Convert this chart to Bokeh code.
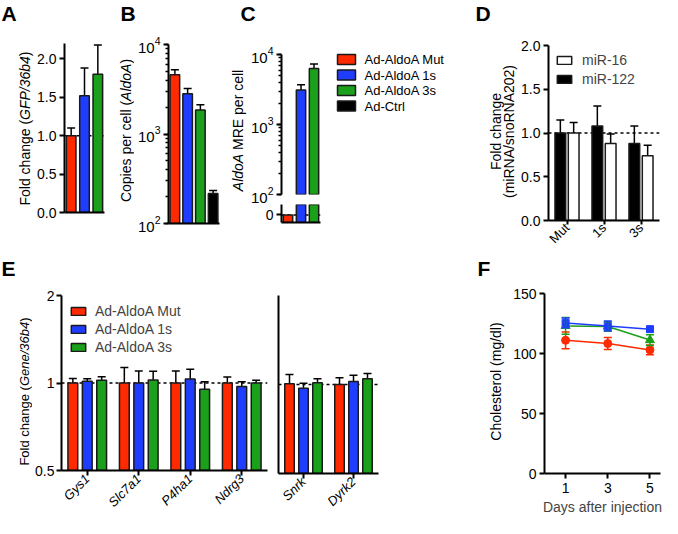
from math import pi
import numpy as np
from bokeh.plotting import figure
from bokeh.layouts import row, column
from bokeh.models import (ColumnDataSource, FactorRange, Range1d, Span, Whisker, TeeHead,
                          Legend, LegendItem, FixedTicker, NumeralTickFormatter)
from bokeh.core.properties import value
from bokeh.transform import dodge
from bokeh.embed import file_html
from bokeh.resources import INLINE

FONT = "Liberation Sans"
RED, BLUE, GREEN, BLACK, WHITE = "#ff2a00", "#1f3dff", "#1aa01a", "#000000", "#ffffff"
EDGE = "#1a1a1a"

# ---------------- data ----------------
abc_groups = ["Ad-AldoA Mut", "Ad-AldoA 1s", "Ad-AldoA 3s", "Ad-Ctrl"]
abc_colors = [RED, BLUE, GREEN, BLACK]
a_mean = [1.00, 1.52, 1.80]
a_sem = [0.10, 0.36, 0.38]
b_mean = [4580, 2810, 1860, 216]
b_sem = [630, 410, 260, 18]
c_mean = [0, 3100, 6300]
c_sem = [0, 600, 1000]

d_groups = ["Mut", "1s", "3s"]
d_mir122 = [1.00, 1.08, 0.88]
d_mir122_sem = [0.15, 0.23, 0.20]
d_mir16 = [1.00, 0.88, 0.74]
d_mir16_sem = [0.12, 0.11, 0.12]

e_series = ["Ad-AldoA Mut", "Ad-AldoA 1s", "Ad-AldoA 3s"]
e_genes_left = ["Gys1", "Slc7a1", "P4ha1", "Ndrg3"]
e_genes_right = ["Snrk", "Dyrk2"]
e_mut = [1.000, 1.000, 1.000, 1.000, 1.005, 1.000]
e_mut_sem = [0.037, 0.130, 0.100, 0.048, 0.075, 0.053]
e_1s = [1.013, 1.000, 1.032, 0.972, 0.972, 1.023]
e_1s_sem = [0.021, 0.100, 0.083, 0.038, 0.038, 0.052]
e_3s = [1.023, 1.024, 0.952, 1.000, 1.013, 1.045]
e_3s_sem = [0.027, 0.074, 0.058, 0.023, 0.032, 0.045]

f_days = [1, 3, 5]
f_mut = [111.0, 108.3, 103.0]
f_mut_sem = [7.0, 5.0, 4.0]
f_1s = [125.5, 123.0, 120.3]
f_1s_sem = [4.0, 4.0, 1.5]
f_3s = [123.0, 122.5, 111.2]
f_3s_sem = [7.0, 4.0, 4.5]

# Arial / Liberation Sans advance widths (per 1000 em), used to lay out mixed-style labels
AW = {' ': 278, '(': 333, ')': 333, '/': 278, 'A': 667, 'C': 722, 'E': 667, 'F': 611, 'G': 778,
      'M': 833, 'P': 667, 'R': 722, 'N': 722, 'a': 556, 'b': 556, 'c': 500, 'd': 556, 'e': 556,
      'g': 556, 'h': 556, 'i': 222, 'l': 222, 'm': 833, 'n': 556, 'o': 556, 'p': 556, 'r': 333,
      's': 500, 't': 278}


def tw(s, size):
    return sum(AW.get(c, 556) for c in s) / 1000.0 * size


def make_fig(w, h, lb, rb, tb, bb, **kw):
    p = figure(width=w, height=h, min_border_left=lb, min_border_right=rb,
               min_border_top=tb, min_border_bottom=bb, title=None,
               output_backend="svg", toolbar_location=None, **kw)
    p.outline_line_color = None
    p.xgrid.grid_line_color = None
    p.ygrid.grid_line_color = None
    return p


def text_fig(x0, x1, y0, y1):
    """Blank figure whose data coordinates equal page pixels (y negated)."""
    p = figure(width=x1 - x0, height=y1 - y0, x_range=Range1d(x0, x1),
               y_range=Range1d(-y1, -y0), min_border=0, title=None,
               x_axis_location=None, y_axis_location=None,
               output_backend="svg", toolbar_location=None)
    p.outline_line_color = None
    p.xgrid.grid_line_color = None
    p.ygrid.grid_line_color = None
    return p


def iso(p):
    # wrap each plot on its own so that rows do not align the plot frames
    return column(p, spacing=0)


def put_text(p, xs, ys, texts, size, style="normal", align="left", baseline="alphabetic",
             angle=0.0):
    p.text(x=list(xs), y=[-y for y in ys], text=list(texts), angle=angle,
           text_font=value(FONT), text_font_size=value(f"{size}px"),
           text_font_style=value(style), text_align=value(align),
           text_baseline=value(baseline), text_color=value("black"))


def vlabel(p, cx, cy, pieces, size):
    total = sum(tw(t, size) for t, _ in pieces)
    y = cy + total / 2.0
    for t, st in pieces:
        s = t.lstrip()
        lead = tw(t[:len(t) - len(s)], size)
        put_text(p, [cx], [y - lead], [s], size, style=st, align="left", baseline="middle",
                 angle=pi / 2)
        y -= tw(t, size)


def style_axis(ax, size=14, minor=False):
    ax.axis_line_width = 2
    ax.axis_line_color = "black"
    ax.major_tick_line_width = 2
    ax.major_tick_line_color = "black"
    ax.major_tick_out = 5
    ax.major_tick_in = 0
    if minor:
        ax.minor_tick_line_color = "black"
        ax.minor_tick_line_width = 1.5
        ax.minor_tick_out = 3
        ax.minor_tick_in = 0
    else:
        ax.minor_tick_line_color = None
    ax.major_label_text_font = FONT
    ax.major_label_text_font_size = f"{size}px"
    ax.major_label_text_color = "black"
    ax.major_label_standoff = 3


def bare_xaxis(p):
    # baseline only: no ticks, no labels
    p.xaxis.ticker = FixedTicker(ticks=[], minor_ticks=[])
    ax = p.xaxis[0]
    ax.axis_line_width = 2
    ax.axis_line_color = "black"
    ax.major_label_standoff = 0


def slots(n):
    return [i + 0.5 for i in range(n)]


def dashed(p, loc):
    p.add_layout(Span(location=loc, dimension="width", line_color="black", line_width=1.5,
                      line_dash="3 3", level="underlay"))


def tee(color="black"):
    return TeeHead(size=8, line_width=1.5, line_color=color)


TOP = 36      # page y where the upper panels start (below the letter strip)
CSPLIT = 212  # page y where the lower part of the broken axis in C starts
BOT0 = 262    # page y where the lower letter strip starts
BOT = 290     # page y where the lower panels start

# ---------------- letter strips ----------------
stripT = text_fig(8, 670, 8, TOP)
put_text(stripT, [9, 128, 248, 483], [21, 21, 21, 21], ["A", "B", "C", "D"], 21, style="bold",
         baseline="middle")
stripB = text_fig(8, 670, BOT0, BOT)
put_text(stripB, [9, 485], [276, 276], ["E", "F"], 21, style="bold", baseline="middle")

# ---------------- Panel A ----------------
tA = text_fig(8, 42, TOP, 262)
vlabel(tA, 32, 136, [("Fold change (", "normal"), ("GFP/36b4", "italic"), (")", "normal")], 14)
fA = make_fig(74, 262 - TOP, 29, 4, 51 - TOP, 42, x_range=Range1d(0, len(a_mean)),
              y_range=Range1d(0, 2.2))
srcA = ColumnDataSource(dict(g=abc_groups[:3], x=slots(3), m=a_mean,
                             hi=[m + s for m, s in zip(a_mean, a_sem)], c=abc_colors[:3]))
dashed(fA, 1.0)
fA.vbar(x="x", top="m", bottom=0, width=0.72, fill_color="c", line_color=EDGE, line_width=1.5,
        source=srcA)
fA.add_layout(Whisker(source=srcA, base="x", lower="m", upper="hi", dimension="height",
                      line_width=1.5, upper_head=tee(), lower_head=None))
style_axis(fA.yaxis[0])
fA.yaxis.ticker = FixedTicker(ticks=[0, 0.5, 1.0, 1.5, 2.0])
fA.yaxis.formatter = NumeralTickFormatter(format="0.0")
bare_xaxis(fA)

# ---------------- Panel B ----------------
tB = text_fig(116, 142, TOP, 262)
vlabel(tB, 133, 138, [("Copies per cell (", "normal"), ("AldoA", "italic"), (")", "normal")], 14)
fB = make_fig(94, 262 - TOP, 32, 9, 52 - TOP, 31, x_range=Range1d(0, len(b_mean)),
              y_range=Range1d(100, 10000), y_axis_type="log")
srcB = ColumnDataSource(dict(g=abc_groups, x=slots(4), m=b_mean,
                             hi=[m + s for m, s in zip(b_mean, b_sem)], c=abc_colors))
fB.vbar(x="x", top="m", bottom=100, width=0.75, fill_color="c", line_color=EDGE, line_width=1.5,
        source=srcB)
fB.add_layout(Whisker(source=srcB, base="x", lower="m", upper="hi", dimension="height",
                      line_width=1.5, upper_head=tee(), lower_head=None))
style_axis(fB.yaxis[0], size=15, minor=True)
bare_xaxis(fB)

# ---------------- Panel C (broken axis) ----------------
tC = text_fig(236, 255, TOP, 262)
vlabel(tC, 245, 138, [("AldoA", "italic"), (" MRE per cell", "normal")], 14)
xC = Range1d(0, len(c_mean))
fC1 = make_fig(81, CSPLIT - TOP, 31, 8, 62 - TOP, CSPLIT - 202, x_range=xC,
               y_range=Range1d(100, 10000), y_axis_type="log", x_axis_location=None)
c_up = [m if m > 100 else np.nan for m in c_mean]
srcC1 = ColumnDataSource(dict(g=abc_groups[:3], x=slots(3), m=c_up, c=abc_colors[:3]))
fC1.vbar(x="x", top="m", bottom=100, width=0.72, fill_color="c", line_color=EDGE, line_width=1.5,
         source=srcC1)
keep = [i for i, s in enumerate(c_sem) if s > 0]
srcCw = ColumnDataSource(dict(x=[slots(3)[i] for i in keep], m=[c_mean[i] for i in keep],
                              hi=[c_mean[i] + c_sem[i] for i in keep]))
fC1.add_layout(Whisker(source=srcCw, base="x", lower="m", upper="hi", dimension="height",
                       line_width=1.5, upper_head=tee(), lower_head=None))
style_axis(fC1.yaxis[0], size=15, minor=True)

fC2 = make_fig(81, 262 - CSPLIT, 31, 8, 0, 32, x_range=xC, y_range=Range1d(-0.8, 1.1))
srcC2 = ColumnDataSource(dict(g=abc_groups[:3], x=slots(3), m=c_mean, c=abc_colors[:3]))
dashed(fC2, 0)
fC2.vbar(x="x", top="m", bottom=-0.8, width=0.72, fill_color="c", line_color=EDGE, line_width=1.5,
         source=srcC2)
style_axis(fC2.yaxis[0])
fC2.yaxis.ticker = FixedTicker(ticks=[0])
bare_xaxis(fC2)

# ---------------- legend for A-C ----------------
tL = text_fig(336, 458, TOP, 262)
leg_y = [67, 82.5, 98, 113.5]
tL.rect(x=[354] * 4, y=[-y for y in leg_y], width=18, height=10, fill_color=abc_colors,
        line_color=EDGE, line_width=1.5)
put_text(tL, [372] * 4, leg_y, abc_groups, 13, baseline="middle")

# ---------------- Panel D ----------------
tD = text_fig(458, 526, TOP, 262)
put_text(tD, [503, 516], [139, 139], ["Fold change", "(miRNA/snoRNA202)"], 14,
         align="center", baseline="middle", angle=pi / 2)
fD = make_fig(144, 262 - TOP, 28, 3, 53 - TOP, 33, x_range=FactorRange(factors=d_groups),
              y_range=Range1d(0, 2.0))
srcD = ColumnDataSource(dict(g=d_groups, m122=d_mir122,
                             h122=[m + s for m, s in zip(d_mir122, d_mir122_sem)],
                             m16=d_mir16, h16=[m + s for m, s in zip(d_mir16, d_mir16_sem)]))
dashed(fD, 1.0)
r122 = fD.vbar(x=dodge("g", -0.18, range=fD.x_range), top="m122", bottom=0, width=0.29,
               fill_color=BLACK, line_color=EDGE, line_width=1.5, source=srcD)
r16 = fD.vbar(x=dodge("g", 0.18, range=fD.x_range), top="m16", bottom=0, width=0.29,
              fill_color=WHITE, line_color=EDGE, line_width=1.5, source=srcD)
fD.add_layout(Whisker(source=srcD, base=dodge("g", -0.18, range=fD.x_range), lower="m122",
                      upper="h122", dimension="height", line_width=1.5, upper_head=tee(),
                      lower_head=None))
fD.add_layout(Whisker(source=srcD, base=dodge("g", 0.18, range=fD.x_range), lower="m16",
                      upper="h16", dimension="height", line_width=1.5, upper_head=tee(),
                      lower_head=None))
style_axis(fD.yaxis[0])
fD.yaxis.ticker = FixedTicker(ticks=[0, 0.5, 1.0, 1.5, 2.0])
fD.yaxis.formatter = NumeralTickFormatter(format="0.0")
style_axis(fD.xaxis[0], size=13)
fD.xaxis.major_tick_out = 4
fD.xaxis.major_label_standoff = 1
fD.xaxis.major_label_orientation = pi / 4
legD = Legend(items=[LegendItem(label="miR-16", renderers=[r16]),
                     LegendItem(label="miR-122", renderers=[r122])],
              location="top_left", glyph_width=18, glyph_height=10, label_height=10,
              label_text_font=FONT, label_text_font_size="14px", label_standoff=9, spacing=3,
              padding=0, margin=7, border_line_color=None, background_fill_alpha=0)
fD.add_layout(legD)

# ---------------- Panel E ----------------
tE = text_fig(8, 40, BOT, 526)
vlabel(tE, 32, 399, [("Fold change (", "normal"), ("Gene/36b4", "italic"), (")", "normal")], 13)


def e_panel(genes, sl, w, lb, rb, with_labels):
    p = make_fig(w, 526 - BOT, lb, rb, 303 - BOT, 45, x_range=FactorRange(factors=genes),
                 y_range=Range1d(0.5, 2.0), y_axis_type="log")
    src = ColumnDataSource(dict(
        g=genes,
        mut=e_mut[sl], mut_hi=[m + s for m, s in zip(e_mut[sl], e_mut_sem[sl])],
        s1=e_1s[sl], s1_hi=[m + s for m, s in zip(e_1s[sl], e_1s_sem[sl])],
        s3=e_3s[sl], s3_hi=[m + s for m, s in zip(e_3s[sl], e_3s_sem[sl])]))
    dashed(p, 1.0)
    rends = []
    for off, col, key in [(-0.28, RED, "mut"), (0.0, BLUE, "s1"), (0.28, GREEN, "s3")]:
        r = p.vbar(x=dodge("g", off, range=p.x_range), top=key, bottom=0.5, width=0.19,
                   fill_color=col, line_color=EDGE, line_width=1.5, source=src)
        rends.append(r)
        p.add_layout(Whisker(source=src, base=dodge("g", off, range=p.x_range), lower=key,
                             upper=key + "_hi", dimension="height", line_width=1.5,
                             upper_head=tee(), lower_head=None))
    ya = p.yaxis[0]
    style_axis(ya)
    ya.major_label_standoff = 2
    if with_labels:
        p.yaxis.ticker = FixedTicker(ticks=[0.5, 1, 2], minor_ticks=[])
        p.yaxis.formatter = NumeralTickFormatter(format="0.[0]")
    else:
        p.yaxis.ticker = FixedTicker(ticks=[], minor_ticks=[])
        ya.major_label_standoff = 0
    xa = p.xaxis[0]
    style_axis(xa, size=13)
    xa.major_label_text_font_style = "italic"
    xa.major_label_orientation = pi / 4
    xa.major_label_standoff = 1
    return p, rends


fE1, rE = e_panel(e_genes_left, slice(0, 4), 236, 27, 1, True)
fE2, _ = e_panel(e_genes_right, slice(4, 6), 164, 10, 54, False)
legE = Legend(items=[LegendItem(label=s, renderers=[r]) for s, r in zip(e_series, rE)],
              location="top_left", glyph_width=18, glyph_height=10, label_height=10,
              label_text_font=FONT, label_text_font_size="14px", label_standoff=8, spacing=2,
              padding=0, margin=8, border_line_color=None, background_fill_alpha=0)
fE1.add_layout(legE)

# ---------------- Panel F ----------------
tF = text_fig(440, 515, BOT, 526)
put_text(tF, [503], [389], ["Cholesterol (mg/dl)"], 14, align="center", baseline="middle",
         angle=pi / 2)
fF = make_fig(155, 526 - BOT, 37, 2, 301 - BOT, 45, x_range=Range1d(0, 5.5),
              y_range=Range1d(0, 150))
for mean, sem, col, mk, sz in [(f_mut, f_mut_sem, RED, "circle", 8),
                               (f_3s, f_3s_sem, GREEN, "triangle", 9),
                               (f_1s, f_1s_sem, BLUE, "square", 7)]:
    src = ColumnDataSource(dict(d=f_days, m=mean, lo=[m - s for m, s in zip(mean, sem)],
                                hi=[m + s for m, s in zip(mean, sem)]))
    fF.line("d", "m", source=src, line_color=col, line_width=1.5)
    fF.add_layout(Whisker(source=src, base="d", lower="lo", upper="hi", dimension="height",
                          line_color=col, line_width=1.5, level="glyph",
                          upper_head=tee(col), lower_head=tee(col)))
    fF.scatter("d", "m", source=src, marker=mk, size=sz, fill_color=col, line_color=col)
style_axis(fF.yaxis[0])
fF.yaxis.ticker = FixedTicker(ticks=[0, 50, 100, 150])
style_axis(fF.xaxis[0])
fF.xaxis.ticker = FixedTicker(ticks=f_days)
fF.xaxis.major_label_standoff = 4
fF.xaxis.axis_label = "Days after injection"
fF.xaxis.axis_label_text_font = FONT
fF.xaxis.axis_label_text_font_size = "14px"
fF.xaxis.axis_label_text_font_style = "normal"
fF.xaxis.axis_label_standoff = 3

layout = column(
    iso(stripT),
    row(iso(tA), iso(fA), iso(tB), iso(fB), iso(tC), column(fC1, fC2, spacing=0), iso(tL),
        iso(tD), iso(fD), spacing=0),
    iso(stripB),
    row(iso(tE), iso(fE1), iso(fE2), iso(tF), iso(fF), spacing=0),
    spacing=0)

open("out.html", "w").write(file_html(layout, INLINE))
